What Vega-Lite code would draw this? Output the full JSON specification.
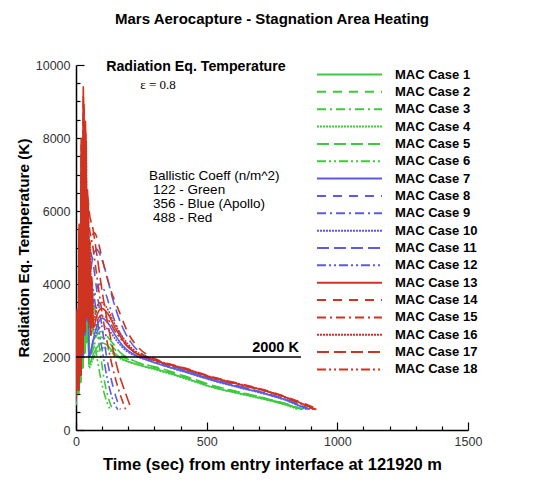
{
"$schema": "https://vega.github.io/schema/vega-lite/v6.json",
"width": 392, "height": 365,
"autosize": {"type": "none"},
"padding": {"left": 76, "top": 65, "right": 71, "bottom": 52},
"background": "white",
"config": {"font": "Liberation Sans", "view": {"stroke": null}, "axis": {"labelOverlap": false}},
"title": {"text": "Mars Aerocapture - Stagnation Area Heating", "fontSize": 15, "fontWeight": "bold", "color": "black", "anchor": "middle", "offset": 32},
"datasets": {
"runs": [
{"c":1,"t":0,"T":700},{"c":1,"t":4,"T":1575},{"c":1,"t":8,"T":1000},{"c":1,"t":12,"T":2700},{"c":1,"t":16,"T":1300},{"c":1,"t":20,"T":3825},{"c":1,"t":24,"T":1700},{"c":1,"t":28,"T":4500},{"c":1,"t":32,"T":2100},{"c":1,"t":36,"T":4050},{"c":1,"t":40,"T":2400},{"c":1,"t":44,"T":3150},
{"c":1,"t":50,"T":1800},{"c":1,"t":65,"T":2050},{"c":1,"t":80,"T":2260},{"c":1,"t":100,"T":2380},{"c":1,"t":120,"T":2320},{"c":1,"t":140,"T":2160},{"c":1,"t":170,"T":1980},{"c":1,"t":220,"T":1830},{"c":1,"t":320,"T":1640},{"c":1,"t":420,"T":1420},{"c":1,"t":520,"T":1180},{"c":1,"t":620,"T":1010},{"c":1,"t":720,"T":850},{"c":1,"t":800,"T":700},{"c":1,"t":865,"T":560},
{"c":2,"t":0,"T":750},{"c":2,"t":6,"T":1750},{"c":2,"t":10,"T":1000},{"c":2,"t":14,"T":3000},{"c":2,"t":18,"T":1300},{"c":2,"t":22,"T":4250},{"c":2,"t":26,"T":1700},{"c":2,"t":30,"T":5000},{"c":2,"t":34,"T":2100},{"c":2,"t":38,"T":4500},{"c":2,"t":42,"T":2400},{"c":2,"t":46,"T":3500},
{"c":2,"t":50,"T":1900},{"c":2,"t":65,"T":2200},{"c":2,"t":80,"T":2450},{"c":2,"t":95,"T":2550},{"c":2,"t":115,"T":2480},{"c":2,"t":140,"T":2280},{"c":2,"t":170,"T":2050},{"c":2,"t":220,"T":1880},{"c":2,"t":320,"T":1680},{"c":2,"t":420,"T":1450},{"c":2,"t":520,"T":1210},{"c":2,"t":620,"T":1040},{"c":2,"t":720,"T":870},{"c":2,"t":800,"T":720},{"c":2,"t":860,"T":570},
{"c":3,"t":0,"T":720},{"c":3,"t":5,"T":1925},{"c":3,"t":9,"T":1000},{"c":3,"t":13,"T":3300},{"c":3,"t":17,"T":1300},{"c":3,"t":21,"T":4675},{"c":3,"t":25,"T":1700},{"c":3,"t":29,"T":5500},{"c":3,"t":33,"T":2100},{"c":3,"t":37,"T":4950},{"c":3,"t":41,"T":2400},{"c":3,"t":45,"T":3850},
{"c":3,"t":50,"T":4000},{"c":3,"t":65,"T":3700},{"c":3,"t":80,"T":2800},{"c":3,"t":95,"T":2000},{"c":3,"t":110,"T":1300},{"c":3,"t":125,"T":850},{"c":3,"t":140,"T":560},
{"c":4,"t":0,"T":680},{"c":4,"t":7,"T":1470},{"c":4,"t":11,"T":1000},{"c":4,"t":15,"T":2520},{"c":4,"t":19,"T":1300},{"c":4,"t":23,"T":3570},{"c":4,"t":27,"T":1700},{"c":4,"t":31,"T":4200},{"c":4,"t":35,"T":2100},{"c":4,"t":39,"T":3780},{"c":4,"t":43,"T":2400},{"c":4,"t":47,"T":2940},
{"c":4,"t":50,"T":1700},{"c":4,"t":65,"T":1950},{"c":4,"t":85,"T":2170},{"c":4,"t":105,"T":2250},{"c":4,"t":125,"T":2200},{"c":4,"t":150,"T":2040},{"c":4,"t":180,"T":1920},{"c":4,"t":230,"T":1800},{"c":4,"t":320,"T":1620},{"c":4,"t":420,"T":1400},{"c":4,"t":520,"T":1170},{"c":4,"t":620,"T":1000},{"c":4,"t":720,"T":840},{"c":4,"t":800,"T":690},{"c":4,"t":850,"T":560},
{"c":5,"t":0,"T":760},{"c":5,"t":4,"T":1820},{"c":5,"t":8,"T":1000},{"c":5,"t":12,"T":3120},{"c":5,"t":16,"T":1300},{"c":5,"t":20,"T":4420},{"c":5,"t":24,"T":1700},{"c":5,"t":28,"T":5200},{"c":5,"t":32,"T":2100},{"c":5,"t":36,"T":4680},{"c":5,"t":40,"T":2400},{"c":5,"t":44,"T":3640},
{"c":5,"t":50,"T":2000},{"c":5,"t":65,"T":2350},{"c":5,"t":80,"T":2600},{"c":5,"t":95,"T":2700},{"c":5,"t":115,"T":2600},{"c":5,"t":140,"T":2380},{"c":5,"t":170,"T":2120},{"c":5,"t":220,"T":1900},{"c":5,"t":320,"T":1700},{"c":5,"t":420,"T":1470},{"c":5,"t":520,"T":1230},{"c":5,"t":620,"T":1050},{"c":5,"t":720,"T":880},{"c":5,"t":800,"T":730},{"c":5,"t":870,"T":570},
{"c":6,"t":0,"T":700},{"c":6,"t":6,"T":1680},{"c":6,"t":10,"T":1000},{"c":6,"t":14,"T":2880},{"c":6,"t":18,"T":1300},{"c":6,"t":22,"T":4080},{"c":6,"t":26,"T":1700},{"c":6,"t":30,"T":4800},{"c":6,"t":34,"T":2100},{"c":6,"t":38,"T":4320},{"c":6,"t":42,"T":2400},{"c":6,"t":46,"T":3360},
{"c":6,"t":50,"T":3300},{"c":6,"t":65,"T":2700},{"c":6,"t":80,"T":2000},{"c":6,"t":95,"T":1400},{"c":6,"t":110,"T":950},{"c":6,"t":130,"T":560},
{"c":7,"t":0,"T":820},{"c":7,"t":5,"T":2450},{"c":7,"t":9,"T":1100},{"c":7,"t":13,"T":4200},{"c":7,"t":17,"T":1500},{"c":7,"t":21,"T":5950},{"c":7,"t":25,"T":2000},{"c":7,"t":29,"T":7000},{"c":7,"t":33,"T":2600},{"c":7,"t":37,"T":6300},{"c":7,"t":41,"T":3000},{"c":7,"t":45,"T":4900},
{"c":7,"t":50,"T":2000},{"c":7,"t":65,"T":2450},{"c":7,"t":80,"T":2850},{"c":7,"t":100,"T":3060},{"c":7,"t":120,"T":2950},{"c":7,"t":150,"T":2600},{"c":7,"t":180,"T":2300},{"c":7,"t":220,"T":2080},{"c":7,"t":260,"T":1950},{"c":7,"t":320,"T":1800},{"c":7,"t":420,"T":1590},{"c":7,"t":520,"T":1370},{"c":7,"t":620,"T":1180},{"c":7,"t":720,"T":1000},{"c":7,"t":800,"T":830},{"c":7,"t":885,"T":570},
{"c":8,"t":0,"T":850},{"c":8,"t":7,"T":2870},{"c":8,"t":11,"T":1100},{"c":8,"t":15,"T":4920},{"c":8,"t":19,"T":1500},{"c":8,"t":23,"T":6970},{"c":8,"t":27,"T":2000},{"c":8,"t":31,"T":8200},{"c":8,"t":35,"T":2600},{"c":8,"t":39,"T":7380},{"c":8,"t":43,"T":3000},{"c":8,"t":47,"T":5740},
{"c":8,"t":50,"T":5200},{"c":8,"t":65,"T":4600},{"c":8,"t":80,"T":3800},{"c":8,"t":100,"T":2800},{"c":8,"t":120,"T":1900},{"c":8,"t":145,"T":1100},{"c":8,"t":170,"T":560},
{"c":9,"t":0,"T":800},{"c":9,"t":4,"T":2625},{"c":9,"t":8,"T":1100},{"c":9,"t":12,"T":4500},{"c":9,"t":16,"T":1500},{"c":9,"t":20,"T":6375},{"c":9,"t":24,"T":2000},{"c":9,"t":28,"T":7500},{"c":9,"t":32,"T":2600},{"c":9,"t":36,"T":6750},{"c":9,"t":40,"T":3000},{"c":9,"t":44,"T":5250},
{"c":9,"t":50,"T":3000},{"c":9,"t":65,"T":3500},{"c":9,"t":80,"T":3880},{"c":9,"t":92,"T":4000},{"c":9,"t":110,"T":3800},{"c":9,"t":135,"T":3250},{"c":9,"t":165,"T":2700},{"c":9,"t":200,"T":2300},{"c":9,"t":240,"T":2050},{"c":9,"t":280,"T":1930},{"c":9,"t":320,"T":1830},{"c":9,"t":420,"T":1610},{"c":9,"t":520,"T":1390},{"c":9,"t":620,"T":1200},{"c":9,"t":720,"T":1010},{"c":9,"t":800,"T":840},{"c":9,"t":890,"T":570},
{"c":10,"t":0,"T":780},{"c":10,"t":6,"T":2275},{"c":10,"t":10,"T":1100},{"c":10,"t":14,"T":3900},{"c":10,"t":18,"T":1500},{"c":10,"t":22,"T":5525},{"c":10,"t":26,"T":2000},{"c":10,"t":30,"T":6500},{"c":10,"t":34,"T":2600},{"c":10,"t":38,"T":5850},{"c":10,"t":42,"T":3000},{"c":10,"t":46,"T":4550},
{"c":10,"t":50,"T":2000},{"c":10,"t":65,"T":2400},{"c":10,"t":85,"T":2750},{"c":10,"t":102,"T":2850},{"c":10,"t":125,"T":2740},{"c":10,"t":155,"T":2450},{"c":10,"t":190,"T":2180},{"c":10,"t":230,"T":2020},{"c":10,"t":280,"T":1900},{"c":10,"t":320,"T":1800},{"c":10,"t":420,"T":1580},{"c":10,"t":520,"T":1360},{"c":10,"t":620,"T":1170},{"c":10,"t":720,"T":990},{"c":10,"t":800,"T":820},{"c":10,"t":880,"T":570},
{"c":11,"t":0,"T":830},{"c":11,"t":5,"T":2800},{"c":11,"t":9,"T":1100},{"c":11,"t":13,"T":4800},{"c":11,"t":17,"T":1500},{"c":11,"t":21,"T":6800},{"c":11,"t":25,"T":2000},{"c":11,"t":29,"T":8000},{"c":11,"t":33,"T":2600},{"c":11,"t":37,"T":7200},{"c":11,"t":41,"T":3000},{"c":11,"t":45,"T":5600},
{"c":11,"t":50,"T":4200},{"c":11,"t":65,"T":4750},{"c":11,"t":80,"T":4950},{"c":11,"t":95,"T":4750},{"c":11,"t":115,"T":4300},{"c":11,"t":140,"T":3600},{"c":11,"t":170,"T":2950},{"c":11,"t":210,"T":2400},{"c":11,"t":250,"T":2100},{"c":11,"t":290,"T":1950},{"c":11,"t":320,"T":1860},{"c":11,"t":420,"T":1630},{"c":11,"t":520,"T":1400},{"c":11,"t":620,"T":1210},{"c":11,"t":720,"T":1020},{"c":11,"t":800,"T":850},{"c":11,"t":895,"T":570},
{"c":12,"t":0,"T":810},{"c":12,"t":7,"T":2520},{"c":12,"t":11,"T":1100},{"c":12,"t":15,"T":4320},{"c":12,"t":19,"T":1500},{"c":12,"t":23,"T":6120},{"c":12,"t":27,"T":2000},{"c":12,"t":31,"T":7200},{"c":12,"t":35,"T":2600},{"c":12,"t":39,"T":6480},{"c":12,"t":43,"T":3000},{"c":12,"t":47,"T":5040},
{"c":12,"t":50,"T":4500},{"c":12,"t":65,"T":3900},{"c":12,"t":80,"T":3100},{"c":12,"t":100,"T":2200},{"c":12,"t":120,"T":1400},{"c":12,"t":140,"T":850},{"c":12,"t":160,"T":560},
{"c":13,"t":0,"T":900},{"c":13,"t":4,"T":3290},{"c":13,"t":8,"T":1100},{"c":13,"t":12,"T":5640},{"c":13,"t":16,"T":1500},{"c":13,"t":20,"T":7990},{"c":13,"t":24,"T":2100},{"c":13,"t":28,"T":9400},{"c":13,"t":32,"T":2700},{"c":13,"t":36,"T":8460},{"c":13,"t":40,"T":3100},{"c":13,"t":44,"T":6580},
{"c":13,"t":48,"T":3000},{"c":13,"t":52,"T":5200},{"c":13,"t":56,"T":2600},{"c":13,"t":60,"T":4200},{"c":13,"t":66,"T":2800},{"c":13,"t":80,"T":3150},{"c":13,"t":98,"T":3330},{"c":13,"t":120,"T":3200},{"c":13,"t":150,"T":2800},{"c":13,"t":180,"T":2450},{"c":13,"t":220,"T":2150},{"c":13,"t":260,"T":2010},{"c":13,"t":320,"T":1870},{"c":13,"t":420,"T":1670},{"c":13,"t":520,"T":1440},{"c":13,"t":620,"T":1260},{"c":13,"t":720,"T":1080},{"c":13,"t":800,"T":900},{"c":13,"t":920,"T":560},
{"c":14,"t":0,"T":950},{"c":14,"t":6,"T":3150},{"c":14,"t":10,"T":1100},{"c":14,"t":14,"T":5400},{"c":14,"t":18,"T":1500},{"c":14,"t":22,"T":7650},{"c":14,"t":26,"T":2100},{"c":14,"t":30,"T":9000},{"c":14,"t":34,"T":2700},{"c":14,"t":38,"T":8100},{"c":14,"t":42,"T":3100},{"c":14,"t":46,"T":6300},
{"c":14,"t":50,"T":5000},{"c":14,"t":60,"T":5300},{"c":14,"t":70,"T":5400},{"c":14,"t":85,"T":5150},{"c":14,"t":100,"T":4700},{"c":14,"t":130,"T":3900},{"c":14,"t":165,"T":3250},{"c":14,"t":200,"T":2650},{"c":14,"t":240,"T":2250},{"c":14,"t":280,"T":2030},{"c":14,"t":320,"T":1900},{"c":14,"t":420,"T":1690},{"c":14,"t":520,"T":1460},{"c":14,"t":620,"T":1280},{"c":14,"t":720,"T":1100},{"c":14,"t":800,"T":920},{"c":14,"t":930,"T":560},
{"c":15,"t":0,"T":880},{"c":15,"t":5,"T":2975},{"c":15,"t":9,"T":1100},{"c":15,"t":13,"T":5100},{"c":15,"t":17,"T":1500},{"c":15,"t":21,"T":7225},{"c":15,"t":25,"T":2100},{"c":15,"t":29,"T":8500},{"c":15,"t":33,"T":2700},{"c":15,"t":37,"T":7650},{"c":15,"t":41,"T":3100},{"c":15,"t":45,"T":5950},
{"c":15,"t":50,"T":5600},{"c":15,"t":65,"T":5000},{"c":15,"t":80,"T":4200},{"c":15,"t":100,"T":3200},{"c":15,"t":125,"T":2200},{"c":15,"t":155,"T":1300},{"c":15,"t":190,"T":560},
{"c":16,"t":0,"T":920},{"c":16,"t":7,"T":3080},{"c":16,"t":11,"T":1100},{"c":16,"t":15,"T":5280},{"c":16,"t":19,"T":1500},{"c":16,"t":23,"T":7480},{"c":16,"t":27,"T":2100},{"c":16,"t":31,"T":8800},{"c":16,"t":35,"T":2700},{"c":16,"t":39,"T":7920},{"c":16,"t":43,"T":3100},{"c":16,"t":47,"T":6160},
{"c":16,"t":51,"T":3000},{"c":16,"t":55,"T":5000},{"c":16,"t":59,"T":2800},{"c":16,"t":63,"T":3800},{"c":16,"t":68,"T":3000},{"c":16,"t":80,"T":3380},{"c":16,"t":95,"T":3500},{"c":16,"t":115,"T":3380},{"c":16,"t":145,"T":2950},{"c":16,"t":180,"T":2530},{"c":16,"t":220,"T":2200},{"c":16,"t":260,"T":2040},{"c":16,"t":320,"T":1880},{"c":16,"t":420,"T":1680},{"c":16,"t":520,"T":1450},{"c":16,"t":620,"T":1270},{"c":16,"t":720,"T":1090},{"c":16,"t":800,"T":910},{"c":16,"t":915,"T":560},
{"c":17,"t":0,"T":860},{"c":17,"t":4,"T":3220},{"c":17,"t":8,"T":1100},{"c":17,"t":12,"T":5520},{"c":17,"t":16,"T":1500},{"c":17,"t":20,"T":7820},{"c":17,"t":24,"T":2100},{"c":17,"t":28,"T":9200},{"c":17,"t":32,"T":2700},{"c":17,"t":36,"T":8280},{"c":17,"t":40,"T":3100},{"c":17,"t":44,"T":6440},
{"c":17,"t":50,"T":6000},{"c":17,"t":65,"T":5500},{"c":17,"t":80,"T":4800},{"c":17,"t":100,"T":3800},{"c":17,"t":130,"T":2600},{"c":17,"t":160,"T":1650},{"c":17,"t":190,"T":1000},{"c":17,"t":212,"T":560},
{"c":18,"t":0,"T":870},{"c":18,"t":6,"T":2800},{"c":18,"t":10,"T":1100},{"c":18,"t":14,"T":4800},{"c":18,"t":18,"T":1500},{"c":18,"t":22,"T":6800},{"c":18,"t":26,"T":2100},{"c":18,"t":30,"T":8000},{"c":18,"t":34,"T":2700},{"c":18,"t":38,"T":7200},{"c":18,"t":42,"T":3100},{"c":18,"t":46,"T":5600},
{"c":18,"t":50,"T":2800},{"c":18,"t":54,"T":4600},{"c":18,"t":58,"T":2600},{"c":18,"t":62,"T":3400},{"c":18,"t":68,"T":2750},{"c":18,"t":85,"T":3050},{"c":18,"t":100,"T":3150},{"c":18,"t":120,"T":3050},{"c":18,"t":150,"T":2700},{"c":18,"t":185,"T":2380},{"c":18,"t":225,"T":2120},{"c":18,"t":265,"T":1990},{"c":18,"t":320,"T":1860},{"c":18,"t":420,"T":1660},{"c":18,"t":520,"T":1430},{"c":18,"t":620,"T":1250},{"c":18,"t":720,"T":1070},{"c":18,"t":800,"T":890},{"c":18,"t":910,"T":560}
],
"ref": [{"t": 0, "t2": 861, "T": 2000}],
"head": [{"t": 459, "T": 9945, "label": "Radiation Eq. Temperature"}],
"eps": [{"t": 314, "T": 9450, "label": "ε = 0.8"}],
"bal": [{"t": 279, "T": 6960, "label": "Ballistic Coeff (n/m^2)"}, {"t": 295, "T": 6580, "label": "122 - Green"}, {"t": 295, "T": 6190, "label": "356 - Blue (Apollo)"}, {"t": 295, "T": 5810, "label": "488 - Red"}],
"k2000": [{"t": 853, "T": 2250, "label": "2000 K"}]
},
"encoding": {
"x": {"field": "t", "type": "quantitative", "scale": {"domain": [0, 1500], "nice": false},
 "axis": {"title": "Time (sec) from entry interface at 121920 m", "titleFontSize": 16.5, "titleFontWeight": "bold", "titleColor": "black", "titlePadding": 5,
  "values": [0,100,200,300,400,500,600,700,800,900,1000,1100,1200,1300,1400,1500], "format": "d",
  "labelExpr": "datum.value % 500 == 0 ? datum.label : ''", "labelFontSize": 12.5, "labelColor": "#333333", "labelPadding": 13, "labelFlush": false, "labelOverlap": false,
  "grid": false, "domainColor": "black", "domainWidth": 1.5, "tickColor": "black", "tickWidth": 1.2,
  "tickSize": {"condition": {"test": "datum.value % 500 == 0", "value": -8}, "value": -4}}},
"y": {"field": "T", "type": "quantitative", "scale": {"domain": [0, 10000], "nice": false},
 "axis": {"title": "Radiation Eq. Temperature (K)", "titleFontSize": 15.3, "titleFontWeight": "bold", "titleColor": "black", "titlePadding": 4,
  "values": [0,500,1000,1500,2000,2500,3000,3500,4000,4500,5000,5500,6000,6500,7000,7500,8000,8500,9000,9500,10000], "format": "d",
  "labelExpr": "datum.value % 2000 == 0 ? datum.label : ''", "labelFontSize": 12.5, "labelColor": "#333333", "labelPadding": 14, "labelFlush": false, "labelOverlap": false,
  "grid": false, "domainColor": "black", "domainWidth": 1.5, "tickColor": "black", "tickWidth": 1.2,
  "tickSize": {"condition": {"test": "datum.value % 2000 == 0", "value": -8}, "value": -4}}}
},
"layer": [
{
"data": {"name": "runs"},
"mark": {"type": "line", "strokeWidth": 1.6, "interpolate": "monotone", "clip": true},
"encoding": {
"color": {"field": "c", "type": "nominal",
 "scale": {"domain": [1,2,3,4,5,6,7,8,9,10,11,12,13,14,15,16,17,18],
  "range": ["#3ec93e","#3ec93e","#3ec93e","#3ec93e","#3ec93e","#3ec93e","#5b5be6","#5b5be6","#5b5be6","#5b5be6","#5b5be6","#5b5be6","#cf3420","#cf3420","#cf3420","#cf3420","#cf3420","#cf3420"]},
 "legend": {"title": null, "orient": "none", "legendX": 267, "legendY": 3, "symbolType": "M-6.5,0H6.5", "symbolSize": 100, "symbolStrokeWidth": 2,
  "labelFontSize": 13, "labelFontWeight": "bold", "labelColor": "black", "labelExpr": "'MAC Case ' + datum.label", "rowPadding": 3.35, "labelOffset": 39, "padding": 0}},
"strokeDash": {"field": "c", "type": "nominal",
 "scale": {"domain": [1,2,3,4,5,6,7,8,9,10,11,12,13,14,15,16,17,18],
  "range": [[1,0],[9,7],[9,4,2,4],[2,1],[12,5],[9,3,2,3,2,3],[1,0],[9,7],[9,4,2,4],[2,1],[12,5],[9,3,2,3,2,3],[1,0],[9,7],[9,4,2,4],[2,1],[12,5],[9,3,2,3,2,3]]}}
}
},
{
"data": {"name": "ref"},
"mark": {"type": "rule", "color": "black", "strokeWidth": 1.5},
"encoding": {"x2": {"field": "t2"}}
},
{
"data": {"name": "head"},
"mark": {"type": "text", "fontSize": 14.2, "fontWeight": "bold", "align": "center", "baseline": "middle", "color": "black"},
"encoding": {"text": {"field": "label"}}
},
{
"data": {"name": "eps"},
"mark": {"type": "text", "fontSize": 13, "font": "Liberation Serif", "align": "center", "baseline": "middle", "color": "black"},
"encoding": {"text": {"field": "label"}}
},
{
"data": {"name": "bal"},
"mark": {"type": "text", "fontSize": 13.5, "align": "left", "baseline": "middle", "color": "black"},
"encoding": {"text": {"field": "label"}}
},
{
"data": {"name": "k2000"},
"mark": {"type": "text", "fontSize": 14.5, "fontWeight": "bold", "align": "right", "baseline": "middle", "color": "black"},
"encoding": {"text": {"field": "label"}}
}
]
}
